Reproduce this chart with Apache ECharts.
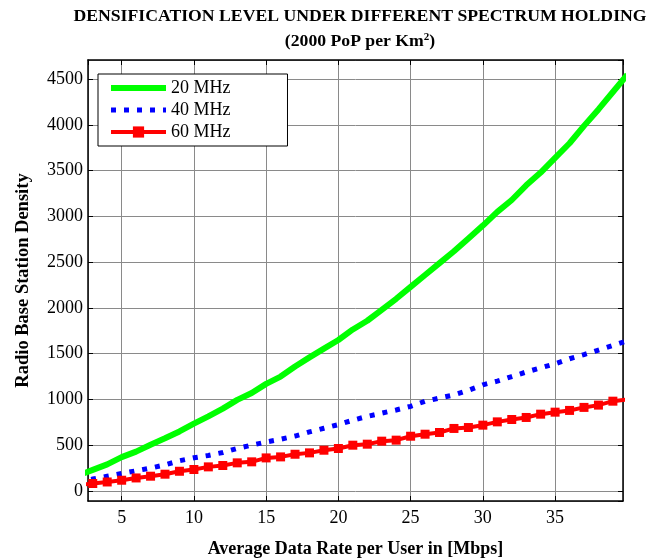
<!DOCTYPE html>
<html>
<head>
<meta charset="utf-8">
<script src="https://cdn.jsdelivr.net/npm/echarts@6/dist/echarts.min.js"></script>
<style>
  html, body { margin: 0; padding: 0; background: #fff; }
  #chart { width: 657px; height: 558px; }
</style>
</head>
<body>
<div id="chart"></div>
<script>
// data (x in Mbps, y = radio base station density)
const rates = [2, 3, 4, 5, 6, 7, 8, 9, 10, 11, 12, 13, 14, 15, 16, 17, 18, 19, 20, 21,
    22, 23, 24, 25, 26, 27, 28, 29, 30, 31, 32, 33, 34, 35, 36, 37, 38, 39, 40]
const mhz20 = [170, 230, 290, 370, 430, 505, 575, 650, 735, 815, 900, 995, 1070, 1170, 1250, 1360, 1460, 1555, 1650, 1765,
    1860, 1980, 2100, 2230, 2360, 2490, 2620, 2760, 2900, 3050, 3180, 3340, 3480, 3640, 3800, 3990, 4170, 4360, 4550]
const mhz40 = [100, 130, 160, 190, 220, 250, 285, 330, 362, 388, 420, 465, 500, 535, 565, 600, 645, 685, 725, 773,
    815, 850, 885, 925, 980, 1015, 1050, 1100, 1160, 1200, 1250, 1300, 1345, 1390, 1445, 1490, 1540, 1590, 1640]
const mhz60 = [65, 81, 98, 117, 142, 161, 183, 215, 234, 263, 278, 307, 318, 361, 372, 401, 416, 445, 464, 500,
    511, 544, 555, 598, 620, 639, 683, 693, 719, 755, 781, 803, 839, 861, 880, 913, 938, 981, 1000]
const seriesNames = ['20 MHz', '40 MHz', '60 MHz']

const xMin = 2.67, xMax = 39.7
const yMin = -110, yMax = 4710

function pairs(ys) {
    let out = []
    for (let i = 0; i < rates.length; i++) {
        out.push([rates[i], ys[i]])
    }
    return out
}

const font = 'Liberation Serif'

// 坐标轴公共部分
function axisBase(pos, showLabel) {
    return {
        type: 'value',
        position: pos,
        axisLine: { show: true, onZero: false, lineStyle: { color: '#000', width: 1.5 } },
        axisTick: { show: true, inside: true, length: 5, lineStyle: { color: '#000', width: 1 } },
        axisLabel: {
            show: showLabel,
            showMinLabel: false,
            showMaxLabel: false,
            color: '#000',
            fontFamily: font,
            fontSize: 18,
            formatter: function (v) { return String(v) }
        },
        splitLine: { show: false }
    }
}

let xBottom = axisBase('bottom', true)
Object.assign(xBottom, {
    min: xMin, max: xMax, splitNumber: 7,
    name: 'Average Data Rate per User in [Mbps]',
    nameLocation: 'middle',
    nameGap: 39,
    nameTextStyle: { color: '#000', fontFamily: font, fontWeight: 'bold', fontSize: 18 }
})
xBottom.axisLabel.margin = 8
xBottom.splitLine = { show: true, lineStyle: { color: '#8a8a8a', width: 1 } }

let xTop = axisBase('top', false)
Object.assign(xTop, { min: xMin, max: xMax, splitNumber: 7 })

let yLeft = axisBase('left', true)
Object.assign(yLeft, {
    min: yMin, max: yMax, splitNumber: 10,
    name: 'Radio Base Station Density',
    nameLocation: 'middle',
    nameGap: 55,
    nameTextStyle: { color: '#000', fontFamily: font, fontWeight: 'bold', fontSize: 18.5 }
})
yLeft.axisLabel.margin = 5
yLeft.splitLine = { show: true, lineStyle: { color: '#8a8a8a', width: 1 } }

let yRight = axisBase('right', false)
Object.assign(yRight, { min: yMin, max: yMax, splitNumber: 10 })

let option = {
    animation: false,
    backgroundColor: '#fff',
    title: {
        text: 'DENSIFICATION LEVEL UNDER DIFFERENT SPECTRUM HOLDING\n(2000 PoP per Km{sup|2})',
        left: 355,
        top: -1,
        textAlign: 'center',
        textStyle: {
            color: '#000',
            fontFamily: font,
            fontWeight: 'bold',
            fontSize: 17.7,
            lineHeight: 25,
            rich: {
                sup: { fontFamily: font, fontWeight: 'bold', fontSize: 11, padding: [0, 0, 9, 0], color: '#000' }
            }
        }
    },
    grid: { left: 88, right: 34, top: 60, bottom: 57, containLabel: false, outerBoundsMode: 'none' },
    legend: {
        orient: 'vertical',
        left: 98,
        top: 74,
        padding: [5, 57, 5, 10],
        itemWidth: 55,
        itemHeight: 14,
        itemGap: 4,
        backgroundColor: '#fff',
        borderColor: '#000',
        borderWidth: 1,
        borderRadius: 0,
        lineStyle: { width: 'inherit' },
        textStyle: { color: '#000', fontFamily: font, fontSize: 18 },
        data: [
            { name: seriesNames[0], itemStyle: { opacity: 0 } },
            { name: seriesNames[1], itemStyle: { opacity: 0 } },
            { name: seriesNames[2] }
        ]
    },
    xAxis: [xBottom, xTop],
    yAxis: [yLeft, yRight],
    series: [
        {
            name: seriesNames[0],
            type: 'line',
            symbol: 'none',
            lineStyle: { color: '#00ff00', width: 6 },
            itemStyle: { color: '#00ff00' },
            data: pairs(mhz20)
        },
        {
            name: seriesNames[1],
            type: 'line',
            symbol: 'none',
            lineStyle: { color: '#0000ff', width: 5, type: [5, 8], cap: 'butt' },
            itemStyle: { color: '#0000ff' },
            data: pairs(mhz40)
        },
        {
            name: seriesNames[2],
            type: 'line',
            symbol: 'rect',
            symbolSize: 9,
            lineStyle: { color: '#ff0000', width: 4 },
            itemStyle: { color: '#ff0000' },
            data: pairs(mhz60)
        }
    ]
}

let chart = echarts.init(document.getElementById('chart'))
chart.setOption(option)
</script>
</body>
</html>
